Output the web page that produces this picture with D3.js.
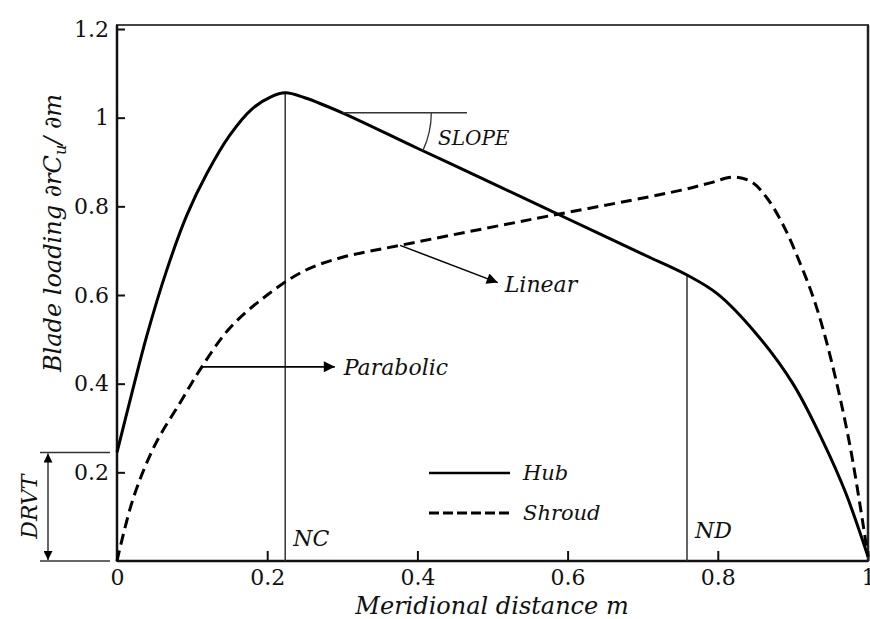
<!DOCTYPE html>
<html>
<head>
<meta charset="utf-8">
<script src="https://cdn.jsdelivr.net/npm/d3@7"></script>
<style>
body { margin: 0; background: #fff; }
text { font-family: 'DejaVu Serif', serif; fill: #111; }
.it { font-style: italic; }
</style>
</head>
<body>
<svg id="chart" width="870" height="619"></svg>
<script>
// hub curve (solid)
var hubM = [0, 0.02, 0.04, 0.066, 0.093, 0.12, 0.15, 0.18, 0.205, 0.224, 0.25, 0.3, 0.4, 0.5, 0.6, 0.7, 0.759, 0.8, 0.85, 0.9, 0.94, 0.97, 1.0];
var hubV = [0.245, 0.38, 0.51, 0.655, 0.78, 0.875, 0.96, 1.02, 1.047, 1.056, 1.045, 1.011, 0.931, 0.852, 0.772, 0.692, 0.645, 0.602, 0.515, 0.4, 0.27, 0.155, 0.01];

// shroud curve (dashed)
var shroudM = [0, 0.021, 0.05, 0.084, 0.113, 0.15, 0.2, 0.25, 0.3, 0.377, 0.55, 0.75, 0.79, 0.82, 0.845, 0.865, 0.887, 0.91, 0.93, 0.95, 0.976, 1.0];
var shroudV = [0, 0.138, 0.26, 0.357, 0.438, 0.525, 0.6, 0.655, 0.685, 0.712, 0.77, 0.836, 0.853, 0.866, 0.855, 0.82, 0.758, 0.67, 0.58, 0.46, 0.26, 0.01];

var xTicks = [0, 0.2, 0.4, 0.6, 0.8, 1];
var yTicks = [0.2, 0.4, 0.6, 0.8, 1, 1.2];

// annotation positions (data units)
var NC = 0.224, ND = 0.759, DRVT = 0.245;
var slopeStart = [0.3, 1.011], slopeEnd = 0.466;
var linearFrom = [0.377, 0.712], linearTo = [0.507, 0.628];
var paraFrom = [0.113, 0.438], paraTo = [0.29, 0.438];

var plotLeft = 117, plotRight = 868, plotTop = 25, plotBottom = 561;

var svg = d3.select('#chart');

var x = d3.scaleLinear().domain([0, 1]).range([plotLeft, plotRight]);
var y = d3.scaleLinear().domain([0, 1.2]).range([plotBottom, 29]);

var defs = svg.append('defs');
defs.append('marker')
  .attr('id', 'arrow')
  .attr('viewBox', '0 0 10 10')
  .attr('refX', 10).attr('refY', 5)
  .attr('markerWidth', 14).attr('markerHeight', 11)
  .attr('markerUnits', 'userSpaceOnUse')
  .attr('orient', 'auto')
  .append('path').attr('d', 'M0,0L10,5L0,10Z').attr('fill', '#000');
defs.append('marker')
  .attr('id', 'narrow')
  .attr('viewBox', '0 0 10 10')
  .attr('refX', 10).attr('refY', 5)
  .attr('markerWidth', 20).attr('markerHeight', 9)
  .attr('markerUnits', 'userSpaceOnUse')
  .attr('orient', 'auto-start-reverse')
  .append('path').attr('d', 'M0,0L10,5L0,10Z').attr('fill', '#000');

// frame
svg.append('rect')
  .attr('x', plotLeft).attr('y', plotTop)
  .attr('width', plotRight - plotLeft).attr('height', plotBottom - plotTop)
  .attr('fill', 'none').attr('stroke', '#444').attr('stroke-width', 2);

// axes with inward ticks
svg.append('g')
  .attr('transform', 'translate(' + plotLeft + ',0)')
  .call(d3.axisLeft(y).tickValues(yTicks).tickSize(-8).tickPadding(8).tickFormat(function(d) { return String(d); }))
  .call(function(g) {
    g.select('.domain').remove();
    g.selectAll('line').attr('stroke', '#111').attr('stroke-width', 2);
    g.selectAll('text').attr('font-size', 22).attr('font-family', 'DejaVu Serif').attr('fill', '#111');
  });

svg.append('g')
  .attr('transform', 'translate(0,' + plotBottom + ')')
  .call(d3.axisBottom(x).tickValues(xTicks).tickSize(-10).tickPadding(8).tickFormat(function(d) { return String(d); }))
  .call(function(g) {
    g.select('.domain').remove();
    g.selectAll('line').attr('stroke', '#111').attr('stroke-width', 2);
    g.selectAll('text').attr('font-size', 22).attr('font-family', 'DejaVu Serif').attr('fill', '#111');
  });

svg.append('line').attr('x1', plotLeft).attr('x2', plotLeft).attr('y1', plotTop).attr('y2', plotBottom)
  .attr('stroke', '#111').attr('stroke-width', 2.5);
svg.append('line').attr('x1', plotLeft).attr('x2', plotRight).attr('y1', plotBottom).attr('y2', plotBottom)
  .attr('stroke', '#111').attr('stroke-width', 2.5);
svg.append('line').attr('x1', plotRight).attr('x2', plotRight).attr('y1', plotTop).attr('y2', plotBottom)
  .attr('stroke', '#222').attr('stroke-width', 2.5);

// NC / ND verticals
var hubAt = function(m) {
  return hubV[hubM.indexOf(m)];
};
svg.append('line')
  .attr('x1', x(NC)).attr('x2', x(NC)).attr('y1', y(0)).attr('y2', y(hubAt(NC)))
  .attr('stroke', '#333').attr('stroke-width', 1.5);
svg.append('line')
  .attr('x1', x(ND)).attr('x2', x(ND)).attr('y1', y(0)).attr('y2', y(hubAt(ND)))
  .attr('stroke', '#333').attr('stroke-width', 1.5);

// curves
var line = d3.line()
  .x(function(d) { return x(d[0]); })
  .y(function(d) { return y(d[1]); })
  .curve(d3.curveCatmullRom.alpha(0.5));

svg.append('path')
  .datum(hubM.map(function(m, i) { return [m, hubV[i]]; }))
  .attr('d', line)
  .attr('fill', 'none').attr('stroke', '#000').attr('stroke-width', 3);

svg.append('path')
  .datum(shroudM.map(function(m, i) { return [m, shroudV[i]]; }))
  .attr('d', line)
  .attr('fill', 'none').attr('stroke', '#000').attr('stroke-width', 3)
  .attr('stroke-dasharray', '11,6');

// SLOPE annotation
var sx = x(slopeStart[0]), sy = y(slopeStart[1]);
svg.append('line')
  .attr('x1', sx).attr('x2', x(slopeEnd)).attr('y1', sy).attr('y2', sy)
  .attr('stroke', '#333').attr('stroke-width', 1.5);
var r = 89;
var ang = Math.atan2(y(0.852) - y(1.011), x(0.5) - x(0.3));
svg.append('path')
  .attr('d', 'M' + (sx + r) + ',' + sy + ' A' + r + ',' + r + ' 0 0,1 ' + (sx + r * Math.cos(ang)) + ',' + (sy + r * Math.sin(ang)))
  .attr('fill', 'none').attr('stroke', '#333').attr('stroke-width', 1.3);
svg.append('text').attr('class', 'it')
  .attr('x', 438).attr('y', 145).attr('font-size', 20).text('SLOPE');

// Linear / Parabolic arrows
svg.append('line')
  .attr('x1', x(linearFrom[0])).attr('y1', y(linearFrom[1]))
  .attr('x2', x(linearTo[0])).attr('y2', y(linearTo[1]))
  .attr('stroke', '#000').attr('stroke-width', 1.5).attr('marker-end', 'url(#arrow)');
svg.append('text').attr('class', 'it')
  .attr('x', x(linearTo[0]) + 7).attr('y', y(linearTo[1]) + 9).attr('font-size', 22).text('Linear');

svg.append('line')
  .attr('x1', x(paraFrom[0])).attr('y1', y(paraFrom[1]))
  .attr('x2', x(paraTo[0])).attr('y2', y(paraTo[1]))
  .attr('stroke', '#000').attr('stroke-width', 1.8).attr('marker-end', 'url(#arrow)');
svg.append('text').attr('class', 'it')
  .attr('x', x(paraTo[0]) + 9).attr('y', y(paraTo[1]) + 8).attr('font-size', 22).text('Parabolic');

// NC / ND labels
svg.append('text').attr('class', 'it')
  .attr('x', x(NC) + 8).attr('y', 546).attr('font-size', 22).text('NC');
svg.append('text').attr('class', 'it')
  .attr('x', x(ND) + 8).attr('y', 538).attr('font-size', 22).text('ND');

// DRVT dimension
svg.append('line').attr('x1', 40).attr('x2', 110).attr('y1', y(DRVT)).attr('y2', y(DRVT))
  .attr('stroke', '#333').attr('stroke-width', 1.5);
svg.append('line').attr('x1', 40).attr('x2', 110).attr('y1', y(0)).attr('y2', y(0))
  .attr('stroke', '#333').attr('stroke-width', 1.5);
svg.append('line').attr('x1', 48).attr('x2', 48).attr('y1', y(DRVT) + 1).attr('y2', y(0) - 1)
  .attr('stroke', '#000').attr('stroke-width', 1.2)
  .attr('marker-start', 'url(#narrow)').attr('marker-end', 'url(#narrow)');
svg.append('text').attr('class', 'it')
  .attr('transform', 'translate(37,' + (y(DRVT) + y(0)) / 2 + ') rotate(-90)')
  .attr('text-anchor', 'middle').attr('font-size', 22).text('DRVT');

// legend
var legend = svg.append('g');
legend.append('line').attr('x1', 429).attr('x2', 510).attr('y1', 473).attr('y2', 473)
  .attr('stroke', '#000').attr('stroke-width', 2.5);
legend.append('text').attr('class', 'it').attr('x', 523).attr('y', 480).attr('font-size', 21).text('Hub');
legend.append('line').attr('x1', 429).attr('x2', 510).attr('y1', 513).attr('y2', 513)
  .attr('stroke', '#000').attr('stroke-width', 3).attr('stroke-dasharray', '10,4');
legend.append('text').attr('class', 'it').attr('x', 523).attr('y', 520).attr('font-size', 21).text('Shroud');

// axis titles
svg.append('text').attr('class', 'it')
  .attr('x', 492).attr('y', 614).attr('text-anchor', 'middle').attr('font-size', 24)
  .text('Meridional distance m');

var yt = svg.append('text').attr('class', 'it')
  .attr('transform', 'translate(61,233) rotate(-90)')
  .attr('text-anchor', 'middle').attr('font-size', 24);
yt.append('tspan').text('Blade loading ∂rC');
yt.append('tspan').attr('font-size', 16).attr('dy', 5).text('u');
yt.append('tspan').attr('dy', -5).text('/ ∂m');
</script>
</body>
</html>
